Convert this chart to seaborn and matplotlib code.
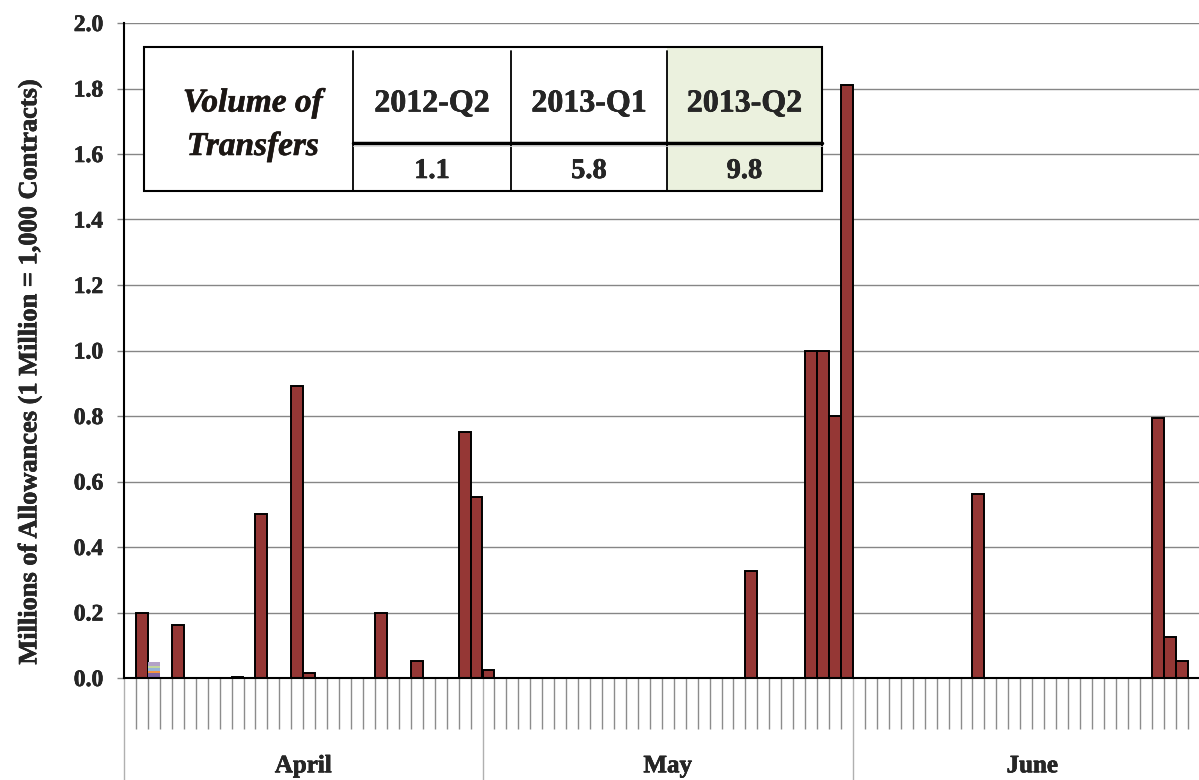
import matplotlib.pyplot as plt
import seaborn as sns
import numpy as np
import pandas as pd
from matplotlib.patches import Rectangle
import matplotlib.patheffects as pe

# daily volume of transfers, millions of allowances (2013-Q2)
april = [0, 0.2, 0, 0, 0.162, 0, 0, 0, 0, 0.003,
         0, 0.5, 0, 0, 0.893, 0.014, 0, 0, 0, 0,
         0, 0.2, 0, 0, 0.052, 0, 0, 0, 0.751, 0.552]
may = [0.025, 0, 0, 0, 0, 0, 0, 0, 0, 0,
       0, 0, 0, 0, 0, 0, 0, 0, 0, 0,
       0, 0, 0.326, 0, 0, 0, 0, 1.0, 1.0, 0.8,
       1.81]
june = [0, 0, 0, 0, 0, 0, 0, 0, 0, 0,
        0.562, 0, 0, 0, 0, 0, 0, 0, 0, 0,
        0, 0, 0, 0, 0, 0.795, 0.125, 0.052, 0, 0]
months = ["April", "May", "June"]

# small stacked bits from other series on April 3
other_day = 2
other_vals = [0.002, 0.013, 0.006, 0.010, 0.005, 0.013]
other_colors = ["#9BBB59", "#7F63A1", "#F39342", "#95B3D7", "#C3D69B", "#B3A2C7"]

# summary table
table_cols = ["2012-Q2", "2013-Q1", "2013-Q2"]
table_vals = ["1.1", "5.8", "9.8"]

volume = april + may + june
df = pd.DataFrame({"day": np.arange(len(volume)), "volume": volume})
month_len = [len(april), len(may), len(june)]
edges = np.concatenate([[0], np.cumsum(month_len)]) - 0.5

sns.set_style("white")
plt.rcParams["font.family"] = ["Liberation Serif", "DejaVu Serif"]
plt.rcParams["font.weight"] = "bold"

# thicken the bold text a little
heavy = [pe.withStroke(linewidth=0.4, foreground="black")]
heavy_i = [pe.withStroke(linewidth=0.4, foreground="#1c1714")]

fig = plt.figure(figsize=(11.99, 7.80), dpi=100)
ax = fig.add_axes([124 / 1199, 1 - 678 / 780, 1 - 124 / 1199, 655 / 780])

sns.barplot(data=df, x="day", y="volume", color="#953735", saturation=1,
            width=1.0, edgecolor="black", linewidth=1.4, ax=ax, zorder=3)
bottoms = np.concatenate([[0], np.cumsum(other_vals)[:-1]])
ax.bar([other_day] * len(other_vals), other_vals, bottom=bottoms, width=1.0,
       color=other_colors, linewidth=0, zorder=3)

ax.set_yticks(np.arange(0, 2.01, 0.2))
ax.set_yticklabels([f"{v:.1f}" for v in np.arange(0, 2.01, 0.2)], fontsize=17,
                   fontweight="bold")
for t in ax.get_yticklabels():
    t.set_path_effects(heavy)
ax.yaxis.grid(True, color="#868686", linewidth=1)
ax.set_axisbelow(True)
ax.tick_params(axis="y", direction="out", length=5, width=1, color="#868686",
               pad=10, left=True)

# x axis: day dividers and month dividers
ax.set_xticks(edges)
ax.set_xticklabels([])
ax.set_xticks(np.arange(-0.5, len(volume)), minor=True)
ax.tick_params(axis="x", which="major", direction="out", length=76, width=1,
               color="#b0b0b0", bottom=True)
ax.tick_params(axis="x", which="minor", direction="out", length=37, width=1,
               color="#8c8c8c", bottom=True)
ax.set_xlim(-0.5, -0.5 + 1075 / 11.95)
ax.set_ylim(0, 2.0)
ax.set_xlabel("")
ax.set_ylabel("")
for i, m in enumerate(months):
    ax.text((edges[i] + edges[i + 1]) / 2, -0.134, m, transform=ax.get_xaxis_transform(),
            ha="center", va="center", fontsize=18, fontweight="bold",
            path_effects=heavy)

for s in ["top", "right"]:
    ax.spines[s].set_visible(False)
for s in ["left", "bottom"]:
    ax.spines[s].set_color("black")
    ax.spines[s].set_linewidth(1.5)
    ax.spines[s].set_zorder(4)

fig.text(30 / 1199, 1 - 372 / 780, "Millions of Allowances (1 Million = 1,000 Contracts)",
         rotation=90, ha="center", va="center", fontsize=19, fontweight="bold",
         path_effects=heavy)

# inset table
tab = fig.add_axes([144 / 1199, 1 - 191 / 780, 678 / 1199, 144 / 780])
tab.set_xlim(0, 678)
tab.set_ylim(144, 0)
tab.axis("off")
tab.add_patch(Rectangle((0, 0), 678, 144, facecolor="white", edgecolor="none"))
tab.add_patch(Rectangle((523, 0), 155, 144, facecolor="#EBF1DE", edgecolor="none"))
tab.add_patch(Rectangle((0, 0), 678, 144, facecolor="none", edgecolor="black",
                        linewidth=1.5, clip_on=False))
for xc in [209, 367, 523]:
    tab.plot([xc, xc], [4, 144], color="black", linewidth=1.3, clip_on=False)
tab.plot([209, 678], [96, 96], color="black", linewidth=2.5, clip_on=False)
tab.plot([209, 678], [98.5, 98.5], color="#d8d8d8", linewidth=0.6, clip_on=False)

tab.text(109, 64.5, "Volume of", ha="center", va="baseline", fontsize=24,
         fontweight="bold", fontstyle="italic", color="#1c1714", path_effects=heavy_i)
tab.text(109, 108, "Transfers", ha="center", va="baseline", fontsize=24,
         fontweight="bold", fontstyle="italic", color="#1c1714", path_effects=heavy_i)
centers = [288, 445, 600.5]
for xc, col, val in zip(centers, table_cols, table_vals):
    tab.text(xc, 64.5, col, ha="center", va="baseline", fontsize=23,
             fontweight="bold", path_effects=heavy)
    tab.text(xc, 131, val, ha="center", va="baseline", fontsize=20.5,
             fontweight="bold", path_effects=heavy)

fig.savefig("out.png", dpi=100)
